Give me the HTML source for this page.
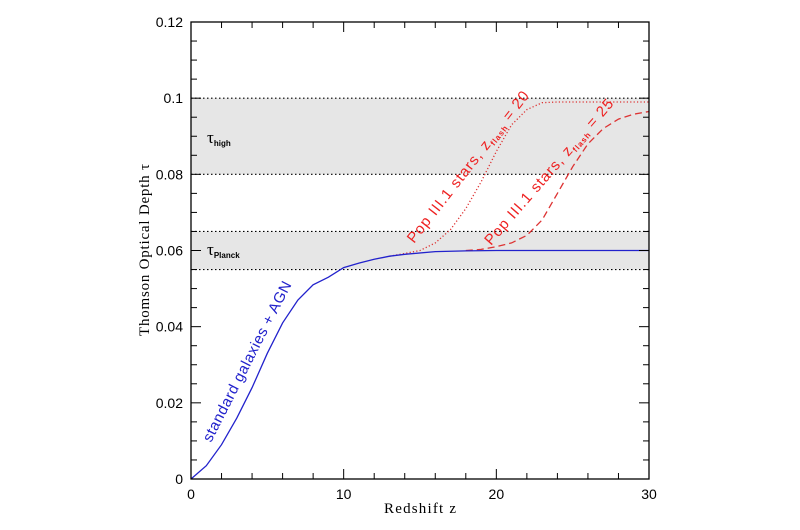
<!DOCTYPE html>
<html><head><meta charset="utf-8"><style>
body{margin:0;background:#fff;}
svg{display:block;font-family:"Liberation Sans",sans-serif;}
</style></head><body>
<svg id="chart" width="800" height="530">
<g id="bands"></g><g id="series"></g><g id="axes"></g><g id="labels"></g>
</svg>
<script>
const blueZ=[0,1,2,3,4,5,6,7,8,9,10,11,12,13,14,16,18,20,30];
const blueT=[0,0.0035,0.009,0.016,0.024,0.033,0.041,0.047,0.051,0.053,0.0555,0.0567,0.0577,0.0585,0.059,0.0597,0.0599,0.06,0.06];
const pop20Z=[13,14,15,16,17,18,19,20,21,22,23,24,30];
const pop20T=[0.0585,0.0592,0.060,0.062,0.0655,0.071,0.078,0.086,0.093,0.097,0.0988,0.099,0.099];
const pop25Z=[18,19,20,21,22,23,24,25,26,27,28,29,30];
const pop25T=[0.06,0.0603,0.061,0.062,0.064,0.068,0.075,0.082,0.088,0.092,0.0945,0.0958,0.0965];
const bandLo=[0.08,0.055];
const bandHi=[0.1,0.065];
const bandNames=["high","Planck"];
const xTicks=[0,10,20,30];
const yTicks=[0,0.02,0.04,0.06,0.08,0.1,0.12];
const yTickLabels=["0","0.02","0.04","0.06","0.08","0.1","0.12"];

const X0=191,X1=649,Y0=479,Y1=22;
const sx=z=>X0+(z/30)*(X1-X0);
const sy=t=>Y0-(t/0.12)*(Y0-Y1);
const NS="http://www.w3.org/2000/svg";
function mk(tag,attrs,parent){const e=document.createElementNS(NS,tag);for(const k in attrs)e.setAttribute(k,attrs[k]);parent.appendChild(e);return e;}
const gB=document.getElementById('bands'),gS=document.getElementById('series'),gA=document.getElementById('axes');

bandLo.forEach((lo,i)=>{
  const r=mk('rect',{x:X0,y:sy(bandHi[i]),width:X1-X0,height:sy(lo)-sy(bandHi[i]),fill:'#e6e6e6'},gB);
  
  
  [lo,bandHi[i]].forEach(v=>{
    const l=mk('line',{x1:X0,x2:X1,y1:sy(v),y2:sy(v),stroke:'#000','stroke-width':1.2,'stroke-dasharray':'1.5,2.5'},gB);
    
    
  });
});
function line(zs,ts,color,dash,name){
  const d=zs.map((z,i)=>(i?'L':'M')+sx(z).toFixed(1)+','+sy(ts[i]).toFixed(1)).join('');
  const p=mk('path',{d:d,fill:'none',stroke:color,'stroke-width':1.3},gS);
  if(dash)p.setAttribute('stroke-dasharray',dash);
  
  
}
line(pop20Z,pop20T,'#d33','1.2,2.2','pop3-zflash20-line');
line(pop25Z,pop25T,'#d33','7,4','pop3-zflash25-line');
line(blueZ,blueT,'#22c',null,'standard-galaxies-line');

const fr=mk('rect',{x:X0,y:Y1,width:X1-X0,height:Y0-Y1,fill:'none',stroke:'#000','stroke-width':1.3},gA);


for(let z=0;z<=30;z+=2){
  const L=(z%10===0)?10:6;
  mk('line',{x1:sx(z),x2:sx(z),y1:Y0,y2:Y0-L,stroke:'#000'},gA);
  mk('line',{x1:sx(z),x2:sx(z),y1:Y1,y2:Y1+L,stroke:'#000'},gA);
}
for(let k=0;k<=24;k++){
  const t=k*0.005,L=(k%4===0)?10:6;
  mk('line',{x1:X0,x2:X0+L,y1:sy(t),y2:sy(t),stroke:'#000'},gA);
  mk('line',{x1:X1,x2:X1-L,y1:sy(t),y2:sy(t),stroke:'#000'},gA);
}
xTicks.forEach(z=>{
  const t=mk('text',{x:sx(z),y:Y0+20,'text-anchor':'middle','font-size':14},gA);
  t.textContent=z;
  
  
});
yTicks.forEach((v,i)=>{
  const t=mk('text',{x:X0-8,y:sy(v)+5,'text-anchor':'end','font-size':14},gA);
  t.textContent=yTickLabels[i];
  
  
});
</script>
<svg style="position:absolute;left:0;top:0" width="800" height="530">
<text x="420" y="513" text-anchor="middle" font-family="Liberation Serif,serif" font-size="15" textLength="72">Redshift z</text>
<text transform="translate(149,250) rotate(-90)" text-anchor="middle" font-family="Liberation Serif,serif" font-size="15" textLength="172">Thomson Optical Depth τ</text>
<text x="207" y="143" font-family="Liberation Serif,serif" font-size="17">τ<tspan font-size="8" font-weight="bold" font-family="Liberation Sans,sans-serif" dy="3">high</tspan></text>
<text x="207" y="255" font-family="Liberation Serif,serif" font-size="17">τ<tspan font-size="8" font-weight="bold" font-family="Liberation Sans,sans-serif" dy="3">Planck</tspan></text>
<text transform="translate(211,443) rotate(-63)" fill="#22c" font-size="15" textLength="178">standard galaxies + AGN</text>
<text transform="translate(414,244) rotate(-52)" fill="#e22" font-size="15" letter-spacing="1">Pop III.1 stars, z<tspan font-size="8" font-weight="bold" dy="3">flash</tspan><tspan dy="-3"> = 20</tspan></text>
<text transform="translate(491,246) rotate(-49)" fill="#e22" font-size="15" letter-spacing="1">Pop III.1 stars, z<tspan font-size="8" font-weight="bold" dy="3">flash</tspan><tspan dy="-3"> = 25</tspan></text>
</svg>
</body></html>
